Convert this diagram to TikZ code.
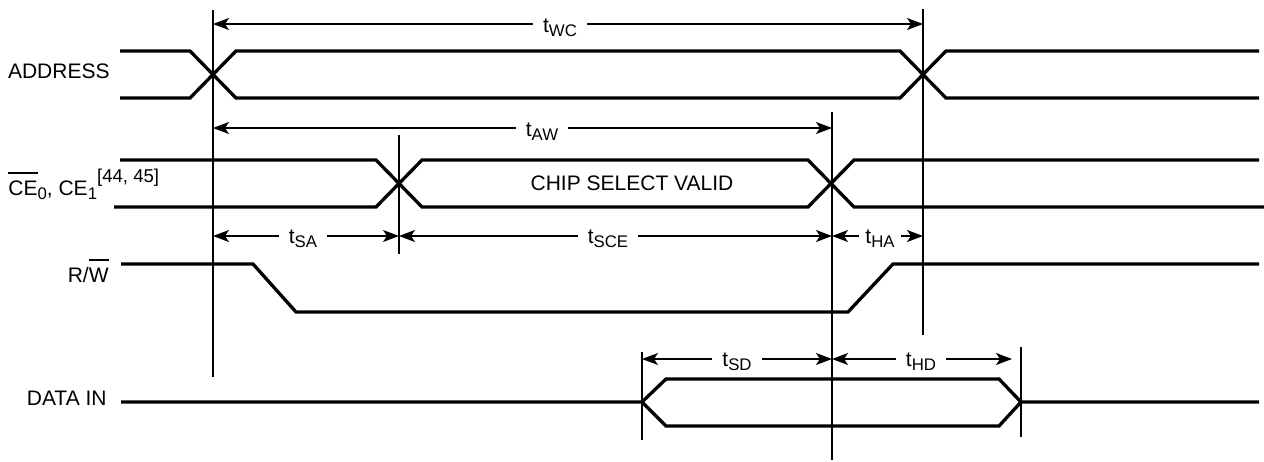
\documentclass[tikz,border=0pt]{standalone}
\usepackage{fontspec}
\setmainfont{Liberation Sans}
\usetikzlibrary{arrows.meta}

\newcommand\tsub[1]{\raisebox{-2.2pt}{\fontsize{8.4}{10}\selectfont #1}}
\newcommand\tsup[1]{\raisebox{6.3pt}{\fontsize{9.3}{11}\selectfont #1}}
\newcommand\ovl[1]{\setbox0\hbox{#1}\rlap{\rule[10.6pt]{\wd0}{0.9pt}}\box0}

\tikzset{
    sig/.style={line width=1.65pt, line join=miter},
    guide/.style={line width=1pt},
    dim/.style={line width=0.7pt,
        {Stealth[length=8pt,width=6pt,inset=2pt]}-{Stealth[length=8pt,width=6pt,inset=2pt]}},
    tlabel/.style={fill=white, inner xsep=5pt, inner ysep=1pt, anchor=base},
    signame/.style={inner sep=0pt, anchor=base east}
}

\begin{document}
\begin{tikzpicture}[x=0.5pt, y=-0.5pt, font=\fontsize{10.5}{12.6}\selectfont]
    			\useasboundingbox (0,0) rectangle (1264,461);

    			% signal names
    			\node[signame] (addr) at (110,78) {ADDRESS};
    			\node[inner sep=0pt, anchor=base west] (ce) at (8,195) {\ovl{CE}\tsub{0}, CE\tsub{1}\tsup{[44, 45]}};
    			\node[signame] (rw) at (109,282) {R/\ovl{W}};
    			\node[signame] (din) at (107,405) {DATA IN};

    			% address
    			\draw[sig] (120,51) -- (190,51) -- (236,98) -- (900,98) -- (946,51) -- (1259,51);
    			\draw[sig] (120,98) -- (190,98) -- (236,51) -- (900,51) -- (946,98) -- (1259,98);

    			% chip select
    			\draw[sig] (120,160) -- (376,160) -- (422,207) -- (808,207) -- (854,160) -- (1259,160);
    			\draw[sig] (114,207) -- (376,207) -- (422,160) -- (808,160) -- (854,207) -- (1264,207);
    			\node (csv) at (632,190) [anchor=base] {CHIP SELECT VALID};

    			% read/write
    			\draw[sig] (121,264) -- (253,264) -- (296,312) -- (848,312) -- (893,264) -- (1259,264);

    			% data in
    			\draw[sig] (121,402) -- (642,402) -- (666,379) -- (999,379) -- (1021,402) -- (1259,402);
    			\draw[sig] (642,402) -- (666,426) -- (999,426) -- (1021,402);

    			% guide lines
    			\coordinate (g1t) at (213,10);  \coordinate (g1b) at (213,377);
    			\coordinate (g2t) at (399,135); \coordinate (g2b) at (399,254);
    			\coordinate (g3t) at (832,112); \coordinate (g3b) at (832,460);
    			\coordinate (g4t) at (923,9);   \coordinate (g4b) at (923,335);
    			\coordinate (g5t) at (642,352); \coordinate (g5b) at (642,440);
    			\coordinate (g6t) at (1021,347); \coordinate (g6b) at (1021,437);
    			\foreach \g in {g1,g2,g3,g4,g5,g6}
        			\draw[guide] (\g t) -- (\g b);

    			% timing rows
    			\coordinate (wc) at (0,24);
    			\coordinate (aw) at (0,128);
    			\coordinate (sa) at (0,236);
    			\coordinate (sd) at (0,359);
    			\coordinate (hdend) at (1012,359);

    			\draw[dim] (g1t |- wc) -- (g4t |- wc);
    			\node[tlabel] (twc) at (560,32) {t\tsub{WC}};
    			\draw[dim] (g1t |- aw) -- (g3t |- aw);
    			\node[tlabel] (taw) at (542,136) {t\tsub{AW}};
    			\draw[dim] (g1t |- sa) -- (g2t |- sa);
    			\node[tlabel] (tsa) at (303,243) {t\tsub{SA}};
    			\draw[dim] (g2t |- sa) -- (g3t |- sa);
    			\node[tlabel] (tsce) at (608,243) {t\tsub{SCE}};
    			\draw[dim] (g3t |- sa) -- (g4t |- sa);
    			\node[tlabel, inner xsep=3pt] (tha) at (880,243) {t\tsub{HA}};
    			\draw[dim] (g5t |- sd) -- (g3t |- sd);
    			\node[tlabel] (tsd) at (737,366) {t\tsub{SD}};
    			\draw[dim] (g3t |- sd) -- (hdend);
    			\node[tlabel] (thd) at (921,366) {t\tsub{HD}};
		\end{tikzpicture}
\end{document}
